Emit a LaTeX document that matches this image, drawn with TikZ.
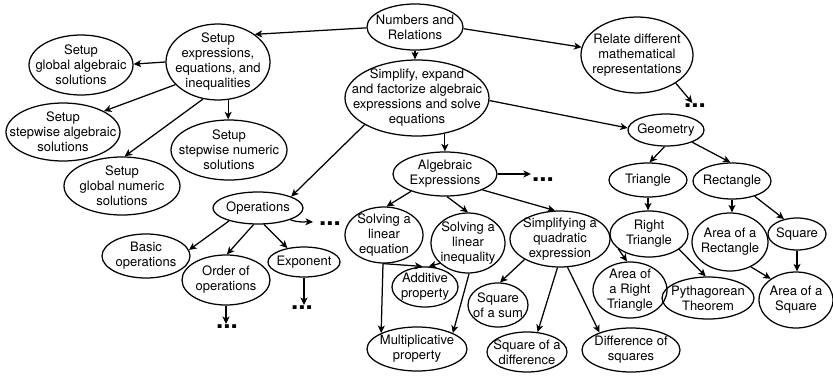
\documentclass[tikz,border=0pt]{standalone}
\usepackage{fontspec}
\setmainfont{TeX Gyre Heros}
\usetikzlibrary{shapes.geometric,arrows.meta}
\tikzset{
  con/.style={ellipse, draw, line width=1.25pt, inner sep=0pt},
  txt/.style={inner sep=0pt, align=center, font=\fontsize{13}{15}\selectfont},
  arr/.style={-{Stealth[length=7.5pt,width=7pt,inset=2pt]}, line width=1.25pt},
  dots/.style={font=\bfseries\fontsize{26}{26}\selectfont, inner sep=1pt,
    text height=3.6pt, text depth=0pt}
}
% name, x, y, width, height, text
\newcommand\concept[6]{%
  \node[con, minimum width=#4pt, minimum height=#5pt] (#1) at (#2,#3) {};
  \node[txt] (#1-t) at (#1) {#6};}
\begin{document}
\begin{tikzpicture}[x=1pt,y=-1pt]
\useasboundingbox (0,0) rectangle (833,378);
\concept{nr}{415}{27}{96}{46}{Numbers and\\Relations}
\concept{se}{218}{62}{104}{76}{Setup\\expressions,\\equations, and\\inequalities}
\concept{sga}{81}{65}{104}{60}{Setup\\global algebraic\\solutions}
\concept{ssa}{63}{132}{114}{58}{Setup\\stepwise algebraic\\solutions}
\concept{ssn}{229}{150}{116}{60}{Setup\\stepwise numeric\\solutions}
\concept{sgn}{122}{186}{116}{58}{Setup\\global numeric\\solutions}
\concept{sim}{417}{98}{144}{76}{Simplify, expand\\and factorize algebraic\\expressions and solve\\equations}
\concept{rel}{637}{55}{112}{76}{Relate different\\mathematical\\representations}
\concept{geo}{666}{130}{76}{32}{Geometry}
\concept{tri}{648}{180}{78}{34}{Triangle}
\concept{rec}{732}{181}{78}{36}{Rectangle}
\concept{alg}{445}{174}{104}{44}{Algebraic\\Expressions}
\concept{ops}{258}{208}{90}{32}{Operations}
\concept{bas}{146}{256}{88}{44}{Basic\\operations}
\concept{ord}{226}{280}{88}{50}{Order of\\operations}
\concept{expo}{304}{262}{72}{30}{Exponent}
\concept{sle}{384}{235}{78}{56}{Solving a\\linear\\equation}
\concept{sli}{468}{243}{74}{60}{Solving a\\linear\\inequality}
\concept{add}{425}{287}{66}{40}{Additive\\property}
\concept{mul}{417}{349}{100}{44}{Multiplicative\\property}
\concept{quad}{560}{239}{100}{56}{Simplifying a\\quadratic\\expression}
\concept{sqs}{498}{305}{60}{44}{Square\\of a sum}
\concept{sqd}{527}{352}{80}{40}{Square of a\\difference}
\concept{dsq}{631}{350}{98}{44}{Difference of\\squares}
\concept{rt}{649}{234}{78}{46}{Right\\Triangle}
\concept{art}{630}{290}{74}{56}{Area of\\a Right\\Triangle}
\concept{pyt}{708}{298}{92}{42}{Pythagorean\\Theorem}
\concept{arec}{730}{242}{76}{58}{Area of a\\Rectangle}
\concept{sq}{797}{234}{58}{32}{Square}
\concept{asq}{796}{300}{74}{56}{Area of a\\Square}
% ellipsis marks
\node[dots] (d1) at (695,106) {...};
\node[dots] (d2) at (543,180) {...};
\node[dots] (d3) at (330,224) {...};
\node[dots] (d4) at (227,327) {...};
\node[dots] (d5) at (302,308) {...};
\coordinate (c3) at (313,222);
% connectors
\draw[arr] (nr.181) -- (se.37);
\draw[arr] (nr.south) -- (nr.south |- sim.north);
\draw[arr] (nr.-2) -- (rel.172);
\draw[arr] (se.180) -- (sga.1);
\draw[arr] (se.208) -- (ssa.27);
\draw[arr] (se.248) -- (sgn.85);
\draw[arr] (se.285) -- (se.285 |- ssn.north);
\draw[arr] (sim.207) -- (ops.19);
\draw[arr] (sim.308) -- (sim.308 |- alg.north);
\draw[arr] (sim.358) -- (geo.177);
\draw[arr] (rel.324) -- (d1.130);
\draw[arr] (geo.265) -- (tri.85);
\draw[arr] (geo.335) -- (rec.95);
\draw[arr] (tri.south) -- (tri.south |- rt.north);
\draw[arr] (rec.south) -- (rec.south |- arec.north);
\draw[arr] (rec.326) -- (sq.131);
\draw[arr] (sq.south) -- (sq.south |- asq.north);
\draw[arr] (rt.206) -- (art.96);
\draw[arr] (rt.333) -- (pyt.96);
\draw[arr] (arec.310) -- (asq.140);
\draw[arr] (alg.east) -- (alg.east -| d2.west);
\draw[arr] (alg.207) -- (sle.85);
\draw[arr] (alg.275) -- (sli.90);
\draw[arr] (alg.337) -- (quad.100);
\draw[arr] (sle.268) -- (add.97);
\draw[arr] (sli.216) -- (add.80);
\draw[arr] (sle.268) -- (mul.156);
\draw[arr] (sli.272) -- (mul.24);
\draw[arr] (quad.210) -- (sqs.85);
\draw[arr] (quad.265) -- (sqd.62);
\draw[arr] (quad.285) -- (dsq.151);
\draw[arr] (ops.204) -- (bas.8);
\draw[arr] (ops.255) -- (ord.88);
\draw[arr] (ops.290) -- (expo.140);
\draw[arr] (ops.340) to[out=-20,in=178] (c3);
\draw[arr] (ord.south) -- (ord.south |- d4.north);
\draw[arr] (expo.south) -- (expo.south |- d5.north);
\end{tikzpicture}
\end{document}
